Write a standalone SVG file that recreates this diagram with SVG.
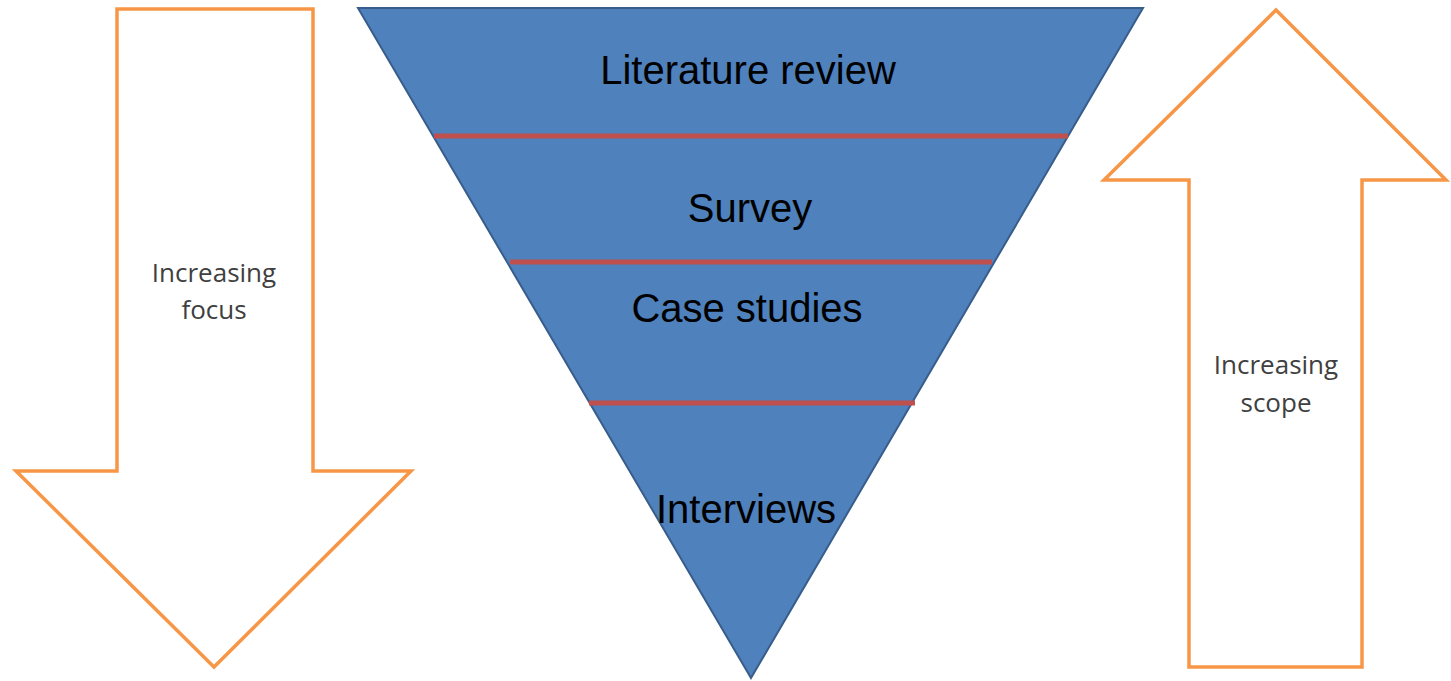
<svg xmlns="http://www.w3.org/2000/svg" width="1451" height="681" viewBox="0 0 1451 681">
<style>
.arrow{fill:#ffffff;stroke:#f79646;stroke-width:3.5;stroke-linejoin:miter}
.tri{fill:#4f81bd;stroke:#385d8a;stroke-width:2}
.div{stroke:#c0504d;stroke-width:5;stroke-linecap:butt}
.lbl{font-family:"Liberation Sans",Arial,sans-serif;font-size:40px;fill:#000000;text-anchor:middle}
.side{font-family:"Open Sans","Noto Sans",sans-serif;font-size:26px;fill:#404040;text-anchor:middle}
</style>
<rect width="1451" height="681" fill="#ffffff"/>
<g id="focus-arrow">
<polygon class="arrow" points="117,9 313,9 313,471 411,471 214,667 16,471 117,471"/>
<text class="side" x="214" y="282">Increasing</text>
<text class="side" x="214" y="319">focus</text>
</g>
<g id="scope-arrow">
<polygon class="arrow" points="1276,10 1446,180 1362,180 1362,667 1189,667 1189,180 1104,180"/>
<text class="side" x="1276" y="374">Increasing</text>
<text class="side" x="1276" y="412">scope</text>
</g>
<g id="funnel">
<polygon class="tri" points="358,8 1143,8 751,678"/>
</g>
<g id="connectors">
<line class="div" x1="434" y1="136" x2="1068" y2="136"/>
<line class="div" x1="510" y1="262" x2="992" y2="262"/>
<line class="div" x1="589" y1="403" x2="915" y2="403"/>
</g>
<g id="literature-review"><text class="lbl" x="748" y="84">Literature review</text></g>
<g id="survey"><text class="lbl" x="750" y="222">Survey</text></g>
<g id="case-studies"><text class="lbl" x="747" y="322">Case studies</text></g>
<g id="interviews"><text class="lbl" x="746" y="523">Interviews</text></g>
</svg>
